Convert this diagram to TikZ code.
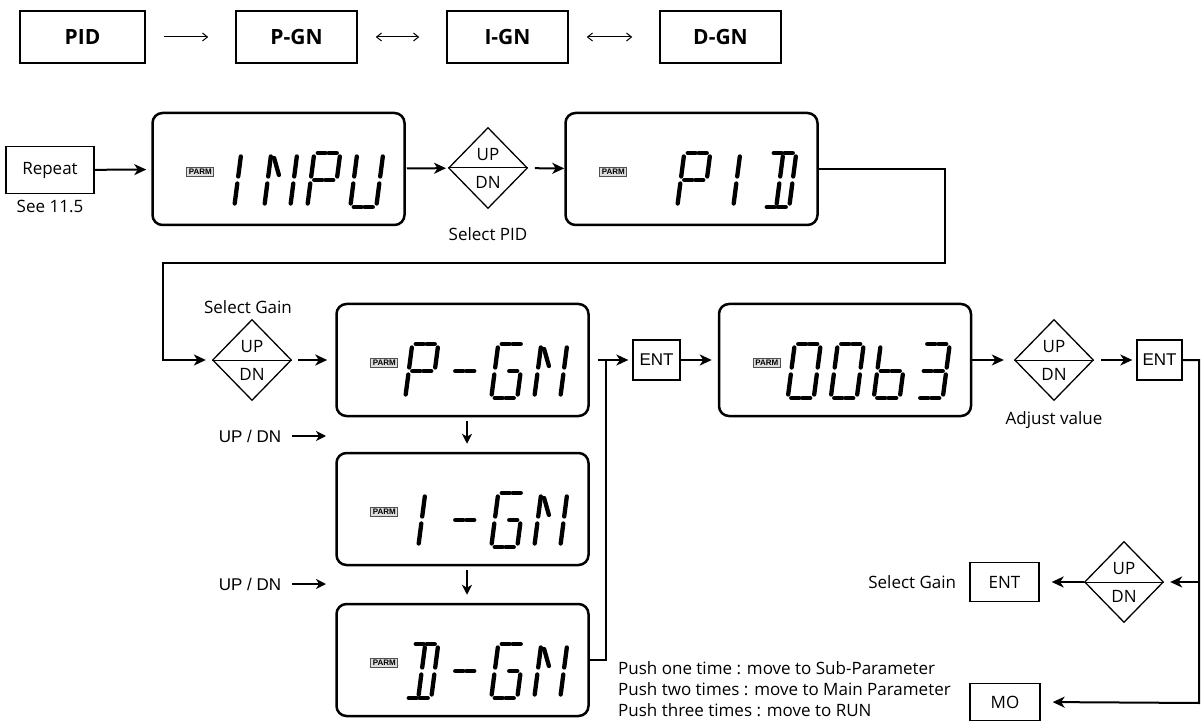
\documentclass[tikz,border=0pt]{standalone}
\usepackage{fontspec}
\setmainfont{Open Sans}
\newfontfamily\arialfont{Liberation Sans}
\usetikzlibrary{arrows.meta,positioning,calc,shapes.geometric}
\definecolor{parmfill}{RGB}{222,222,222}
\definecolor{parmline}{RGB}{80,80,80}

% end points of the segments of one lcd cell (x1/y1/x2/y2, y upwards)
\def\lcdqaa{3.5/54/11.5/54}
\def\lcdqab{14.5/54/22.5/54}
\def\lcdqb{26/50.5/26/30.5}
\def\lcdqc{26/23.5/26/3.5}
\def\lcdqda{3.5/0/11.5/0}
\def\lcdqdb{14.5/0/22.5/0}
\def\lcdqe{0/3.5/0/23.5}
\def\lcdqf{0/30.5/0/50.5}
\def\lcdqga{3.5/27/11.5/27}
\def\lcdqgb{14.5/27/22.5/27}
\def\lcdqh{13/50.5/13/30.5}
\def\lcdqi{13/23.5/13/3.5}
\def\lcdqk{3.5/49/10.5/32}
% which segments light up for a character
\expandafter\def\csname lcdcI\endcsname{h,i}
\expandafter\def\csname lcdcN\endcsname{f,e,k,b,c}
\expandafter\def\csname lcdcP\endcsname{aa,ab,b,f,e,ga,gb}
\expandafter\def\csname lcdcU\endcsname{f,e,da,db,b,c}
\expandafter\def\csname lcdcD\endcsname{aa,ab,h,i,b,c,da,db}
\expandafter\def\csname lcdc-\endcsname{ga,gb}
\expandafter\def\csname lcdcG\endcsname{aa,ab,f,e,da,db,c,gb}
\expandafter\def\csname lcdc0\endcsname{aa,ab,b,c,da,db,e,f}
\expandafter\def\csname lcdcb\endcsname{f,e,da,db,c,ga,gb}
\expandafter\def\csname lcdc3\endcsname{aa,ab,b,c,da,db,ga,gb}

\newcommand{\lcdcell}[1]{%
  \expandafter\let\expandafter\lcdsegs\csname lcdc#1\endcsname
  \foreach \s in \lcdsegs {%
    \expandafter\let\expandafter\lcdq\csname lcdq\s\endcsname
    \foreach \xa/\ya/\xb/\yb in \lcdq {\draw[lcdseg] (\xa,\ya) -- (\xb,\yb);}
  }%
}
% #1 display node, #2 first cell, #3 characters
\newcommand{\lcdshow}[3]{%
  \node[parm] at ([xshift=49pt,yshift=-3pt]#1.west) {PARM};
  \foreach \ch [count=\k from #2] in {#3} {
    \begin{scope}[shift={([xshift=70pt+43pt*\k,yshift=-38pt]#1.west)},x=1pt,y=1pt,xslant=0.13]
      \lcdcell{\ch}
    \end{scope}
  }%
}

\begin{document}
\begin{tikzpicture}[x=1pt,y=-1pt,
    lcd/.style={draw,line width=2.5pt,rounded corners=10pt,minimum width=252pt,minimum height=112pt},
    updn/.style={diamond,draw,line width=1.3pt,minimum width=79pt,minimum height=81pt,inner sep=0pt},
    sbox/.style={draw,line width=1.3pt,inner sep=0pt,font=\fontsize{17}{20}\selectfont},
    topbox/.style={draw,line width=1.5pt,minimum width=121pt,minimum height=52pt,font=\fontsize{21}{24}\selectfont\bfseries},
    lbl/.style={inner sep=1pt,font=\fontsize{17}{20}\selectfont},
    udlbl/.style={inner sep=1pt,font=\arialfont\fontsize{17}{20}\selectfont},
    parm/.style={draw=parmline,fill=parmfill,line width=0.8pt,inner xsep=2pt,inner ysep=2pt,font=\arialfont\bfseries\fontsize{8}{8}\selectfont},
    lcdseg/.style={line width=4.3pt,line cap=round},
    arr/.style={-{Stealth[length=12pt,width=11pt,inset=3.5pt]},line width=2pt},
    sarr/.style={-{Stealth[length=10pt,width=10pt,inset=3pt]},line width=1.5pt},
    tarr/.style={line width=1pt,shorten <=18pt,shorten >=27pt},
    tip/.style={Straight Barb[length=5pt,width=8pt]}
]
\useasboundingbox (0,0) rectangle (1203,722);

% gain sequence
\node[topbox,minimum width=125pt] (pidt) at (82.5,37) {PID};
\node[topbox] (pgnt) at (296.5,37) {P-GN};
\node[topbox] (ignt) at (507.5,37) {I-GN};
\node[topbox] (dgnt) at (720.5,37) {D-GN};
\draw[tarr,-{Straight Barb[length=5pt,width=8pt]}] (pidt) -- (pgnt);
\draw[tarr,{Straight Barb[length=5pt,width=8pt]}-{Straight Barb[length=5pt,width=8pt]}] (pgnt) -- (ignt);
\draw[tarr,{Straight Barb[length=5pt,width=8pt]}-{Straight Barb[length=5pt,width=8pt]}] (ignt) -- (dgnt);

% first row
\node[sbox,minimum width=88pt,minimum height=47pt] (rep) at (50,170) {Repeat};
\node[lbl,below=5pt of rep] (see) {See 11.5};
\node[lcd] (inpu) at (278.5,169) {};
\node[updn] (d1) at (488,168) {};
\node[lbl,below=17pt of d1] (selpid) {Select PID};
\node[lcd] (pid) at (691.5,169) {};

% second row
\node[updn] (d2) at (252,360) {};
\node[lbl,above=4pt of d2,xshift=-4pt] (selgain) {Select Gain};
\node[lcd] (pgn) at (462.5,360) {};
\node[lcd] (ign) at (462.5,509) {};
\node[lcd] (dgn) at (462.5,660) {};
\node[sbox,minimum width=47pt,minimum height=40pt,font=\arialfont\fontsize{17}{20}\selectfont] (ent1) at (656.5,360) {ENT};
\node[lcd] (val) at (845,360) {};
\node[updn] (d3) at (1054,360) {};
\node[lbl,below=9pt of d3] (adj) {Adjust value};
\node[sbox,minimum width=45pt,minimum height=40pt,font=\arialfont\fontsize{17}{20}\selectfont] (ent2) at (1159.5,360) {ENT};

\node[udlbl] (ud1) at (250,436) {UP / DN};
\node[udlbl] (ud2) at (250,584) {UP / DN};
\coordinate (ud1e) at (326,436);
\coordinate (ud2e) at (326,584);

% return branch
\node[updn] (d4) at (1124,582) {};
\node[sbox,minimum width=69pt,minimum height=39pt] (ent3) at (1004.5,582) {ENT};
\node[lbl,left=12pt of ent3] (selgain2) {Select Gain};
\node[sbox,minimum width=70pt,minimum height=37pt] (mo) at (1005,702) {MO};
\node[lbl,align=left,anchor=west,font=\fontsize{17}{21}\selectfont] (push) at (617,689)
  {Push one time : move to Sub-Parameter\\Push two times : move to Main Parameter\\Push three times : move to RUN};

% UP/DN in the diamonds
\foreach \d in {d1,d2,d3,d4} {
  \draw[line width=1pt] (\d.west) -- (\d.east);
  \node[lbl] at ([yshift=13pt]\d.center) {UP};
  \node[lbl] at ([yshift=-14pt]\d.center) {DN};
}

% display contents
\lcdshow{inpu}{0}{I,N,P,U}
\lcdshow{pid}{1}{P,I,D}
\lcdshow{pgn}{0}{P,-,G,N}
\lcdshow{ign}{0}{I,-,G,N}
\lcdshow{dgn}{0}{D,-,G,N}
\lcdshow{val}{0}{0,0,b,3}

% connectors
\coordinate (tr) at (945,263);
\coordinate (tl) at (163,263);
\coordinate (jn) at (606,360);
\coordinate (rb) at (1199,703);
\coordinate (rm) at (1199,582);

\draw[arr,shorten >=5pt] (rep) -- (inpu);
\draw[arr,shorten <=1pt,shorten >=2pt] (inpu) -- (d1);
\draw[arr,shorten <=7pt] (d1) -- (pid);
\draw[arr,shorten >=6pt] (pid.east) -| (tr) -- (tl) |- (d2.west);
\draw[arr,shorten <=6pt,shorten >=8pt] (d2) -- (pgn);
\draw[arr,shorten <=8pt,shorten >=4pt] (pgn) -- (ent1);
\draw[line width=2pt] (dgn.east) -| (jn);
\draw[arr,shorten >=6pt] (ent1) -- (val);
\draw[arr,shorten >=10pt] (val) -- (d3);
\draw[arr,shorten <=7pt,shorten >=4pt] (d3) -- (ent2);
\draw[arr,shorten >=12pt] (ent2.east) -| (rb) -- (mo.east);
\draw[arr,shorten >=6pt] (rm) -- (d4.east);
\draw[arr,shorten >=12pt] (d4) -- (ent3);

\draw[sarr,shorten <=4pt,shorten >=8pt] ([xshift=4.5pt]pgn.south) -- ([xshift=4.5pt]ign.north);
\draw[sarr,shorten <=4pt,shorten >=8pt] ([xshift=4.5pt]ign.south) -- ([xshift=4.5pt]dgn.north);
\draw[sarr,shorten <=10pt] (ud1) -- (ud1e);
\draw[sarr,shorten <=10pt] (ud2) -- (ud2e);
\end{tikzpicture}
\end{document}
